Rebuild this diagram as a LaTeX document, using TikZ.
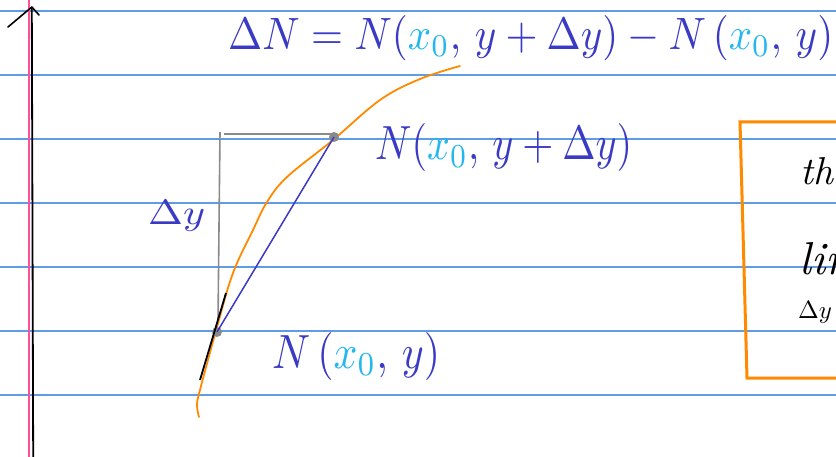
\documentclass[tikz,border=0pt]{standalone}
\usepackage{graphicx}
\usepackage{amsmath}
\definecolor{inkblue}{HTML}{3A3AC4}
\definecolor{inkcyan}{HTML}{22B8EE}
\definecolor{inkorange}{HTML}{FF8A00}
\definecolor{ruleblue}{HTML}{5E9DE6}
\definecolor{marginpink}{HTML}{FF4F9A}
\definecolor{inkgray}{HTML}{8A8A8A}
\newcommand{\xo}{\textcolor{inkcyan}{x_0}}
\begin{document}
\begin{tikzpicture}[x=1pt,y=-1pt,
  rule/.style={ruleblue,line width=1.2pt},
  bluetext/.style={inkblue,inner sep=0pt},
  blacktext/.style={black,inner sep=0pt},
  curve/.style={inkorange,line width=1.8pt,line cap=round,line join=round},
  dotmark/.style={circle,fill=inkgray,inner sep=0pt,minimum size=10pt}]
\useasboundingbox (0,0) rectangle (836,457);
\fill[white] (0,0) rectangle (836,457);
% ruled lines
\foreach \yy in {11,75,139,203,267,331,395}{
  \draw[rule] (0,\yy) -- (836,\yy);
}
% margin line and axis
\draw[marginpink,line width=2.2pt] (29.2,0) -- (29.2,457);
\coordinate (axtop) at (31.8,7);
\coordinate (axbot) at (33.2,457);
\draw[black,line width=1.8pt] (axbot) -- (axtop);
\draw[black,line width=1.6pt,line cap=round,line join=round] (8,27) -- (axtop) -- (39,15);
% orange box (clipped at right edge, as in the reference)
\begin{scope}
\clip (0,0) rectangle (836,457);
\draw[inkorange,line width=3pt,line join=miter] (850,122) -- (740,122) -- (747,378) -- (850,378);
\node[blacktext,anchor=west] (the) at (800,171) {\resizebox{!}{27pt}{\textit{the}}};
\node[blacktext,anchor=west] (lim) at (799,259) {\resizebox{!}{32pt}{\textit{lim}}};
\node[blacktext,anchor=west] (lims) at (798,312) {\resizebox{!}{17pt}{$\Delta y\to0$}};
\end{scope}
% equation
\node[bluetext,anchor=west] (eq) at (228,38) {\resizebox{605pt}{34pt}{$\Delta N = N(\xo,\, y+\Delta y) - N\,(\xo,\, y)$}};
% gray L
\coordinate (vtop) at (220,132);
\coordinate (vbot) at (218,322);
\coordinate (hleft) at (224,134);
\coordinate (hright) at (333,134);
\draw[inkgray,line width=1.6pt] (vbot) -- (vtop);
\draw[inkgray,line width=1.6pt] (hleft) -- (hright);
% orange curve
\draw[curve] plot[smooth,tension=0.6] coordinates {(199,417) (197,405) (200,390) (217,327) (233,273) (253,230) (267,202) (287,177) (333,140) (380,100) (420,79) (460,66)};
% points
\coordinate (Pc) at (217,332);
\coordinate (Qc) at (334,137);
\node[dotmark] (P) at (Pc) {};
\node[dotmark] (Q) at (Qc) {};
% blue secant
\draw[inkblue,line width=1.5pt] (P.center) -- (Q.center);
% tangent
\coordinate (t1) at (200,380);
\coordinate (t2) at (226,293);
\draw[black,line width=1.8pt] (t1) -- (t2);
% labels
\node[bluetext,anchor=west] (dy) at (148,216) {\resizebox{57pt}{24pt}{$\Delta y$}};
\node[bluetext,anchor=west] (Qlab) at (375,148) {\resizebox{257pt}{36pt}{$N(\xo,\, y+\Delta y)$}};
\node[bluetext,anchor=west] (Plab) at (272,356) {\resizebox{168pt}{36pt}{$N\,(\xo,\, y)$}};
\end{tikzpicture}
\end{document}
